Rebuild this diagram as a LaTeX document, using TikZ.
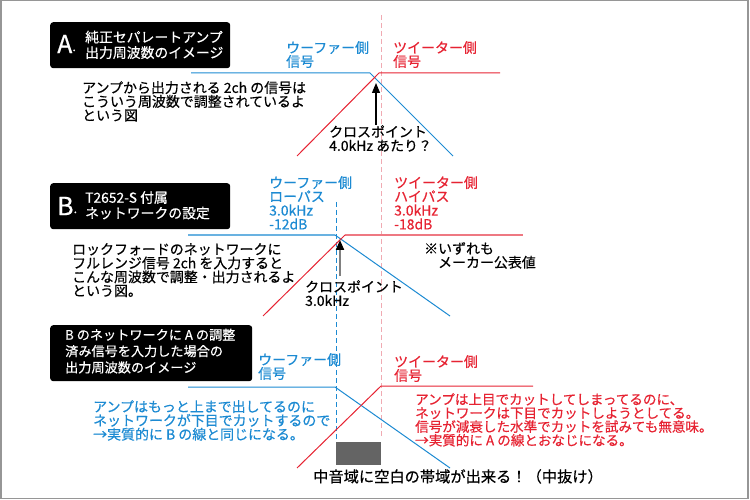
\documentclass[tikz,border=0pt]{standalone}
\usepackage{fontspec}
\setmainfont{Noto Sans CJK JP}[FakeBold=0.5]
\usepackage{xcolor}
\usetikzlibrary{arrows.meta, positioning}
\definecolor{wblue}{RGB}{28,138,210}
\definecolor{tred}{RGB}{230,35,50}
\definecolor{wblueL}{RGB}{105,178,225}
\definecolor{tredL}{RGB}{238,120,130}
\definecolor{guide}{RGB}{240,170,178}
\definecolor{frame}{RGB}{150,150,150}
\definecolor{gapgray}{RGB}{100,100,100}

\begin{document}
\begin{tikzpicture}[x=1bp, y=-1bp, >={Triangle[width=8bp,length=10bp]},
  txt/.style={inner sep=0pt, anchor=north west, align=left, font=\fontsize{14}{13.9}\selectfont},
  titlebox/.style={fill=black, rounded corners=3bp, anchor=north west, inner sep=0pt},
  titletxt/.style={txt, text=white, font=\fontsize{13.9}{15.6}\selectfont},
  bigletter/.style={inner sep=0pt, anchor=west, text=white, font=\fontsize{25}{25}\selectfont},
  curve/.style={line width=1bp},
  thick curve/.style={line width=2bp}]
\useasboundingbox (0,0) rectangle (750,500);
\draw[frame, line width=1.5bp] (0.75,0.75) rectangle (748,498.5);
% 区切り線
\draw[guide, line width=1bp, dash pattern=on 5bp off 3bp] (381,15) -- (381,437);
\draw[wblue, line width=1bp, dash pattern=on 5bp off 3bp] (336,202) -- (336,440);

% A
\node[titlebox, minimum width=180bp, minimum height=46bp] (boxA) at (50,22) {};
\node[bigletter] (letA) at (57,44) {A\raisebox{2bp}{\fontsize{13}{13}\selectfont.}};
\node[titletxt] (headA) at (85,30.5) {純正セパレートアンプ\\出力周波数のイメージ};
\node[txt, text=wblue] (wooferA) at (286,41) {ウーファー側\\信号};
\node[txt, text=tred] (tweeterA) at (393,41) {ツイーター側\\信号};
\node[txt] (noteA) at (82,81) {アンプから出力される 2ch の信号は\\こういう周波数で調整されているよ\\という図};
\node[txt] (crossA) at (329,125) {クロスポイント\\4.0kHz あたり？};
\coordinate (wA) at (370,73);
\coordinate (tA) at (379,73);
\coordinate (xA) at (376,83);
\draw[wblue, curve] (191,73) -- (wA) -- (453,156);
\draw[tred, curve] (297,156) -- (tA) -- (500,73);
\draw[->, line width=1.2bp] (crossA.north -| xA) -- (xA);

% B
\node[titlebox, minimum width=180bp, minimum height=46bp] (boxB) at (50,183) {};
\node[bigletter] (letB) at (57,206) {B\raisebox{2bp}{\fontsize{13}{13}\selectfont.}};
\node[titletxt] (headB) at (85,191) {T2652-S 付属\\ネットワークの設定};
\node[txt, text=wblue] (wooferB) at (269,176) {ウーファー側\\ローパス\\3.0kHz\\-12dB};
\node[txt, text=tred] (tweeterB) at (394,176) {ツイーター側\\ハイパス\\3.0kHz\\-18dB};
\node[txt] (noteB) at (72,243) {ロックフォードのネットワークに\\フルレンジ信号 2ch を入力すると\\こんな周波数で調整・出力されるよ\\という図。};
\node[txt] (makerB) at (424,242) {※いずれも\\　メーカー公表値};
\node[txt] (crossB) at (305,280) {クロスポイント\\3.0kHz};
\coordinate (wB) at (335,235);
\coordinate (tB) at (345,235);
\coordinate (xB) at (340,240);
\draw[wblueL, thick curve] (188,235) -- (wB);
\draw[wblue, curve] (wB) -- (450,316);
\draw[tredL, thick curve] (tB) -- (523,235);
\draw[tred, curve] (263,316) -- (tB);
\draw[-{Triangle[width=8bp,length=10bp,black]}, gray, line width=2bp] (crossB.north -| xB) ++(0,-4) -- (xB);

% A を B に入力
\node[titlebox, minimum width=202bp, minimum height=56bp] (boxC) at (50,325) {};
\node[titletxt, font=\fontsize{13.2}{16.4}\selectfont] (headC) at (65,328.5) {B のネットワークに A の調整\\済み信号を入力した場合の\\出力周波数のイメージ};
\node[txt, text=wblue] (wooferC) at (258,353) {ウーファー側\\信号};
\node[txt, text=tred] (tweeterC) at (394,355) {ツイーター側\\信号};
\node[txt, text=wblue] (noteCw) at (93,400) {アンプはもっと上まで出してるのに\\ネットワークが下目でカットするので\\→実質的に B の線と同じになる。};
\node[txt, text=tred, font=\fontsize{13.6}{13.7}\selectfont] (noteCt) at (415,393) {アンプは上目でカットしてしまってるのに、\\ネットワークは下目でカットしようとしてる。\\信号が減衰した水準でカットを試みても無意味。\\→実質的に A の線とおなじになる。};
\coordinate (wC) at (335,387);
\coordinate (tC) at (381,386);
\draw[wblue, curve] (188,387) -- (wC) -- (450,468);
\draw[tred, curve] (297,468) -- (tC) -- (533,386);
\fill[gapgray] (336,442) rectangle (381,465);
\node[txt, font=\fontsize{15.3}{16}\selectfont] (gapC) at (313,469) {中音域に空白の帯域が出来る！（中抜け）};
\end{tikzpicture}
\end{document}
